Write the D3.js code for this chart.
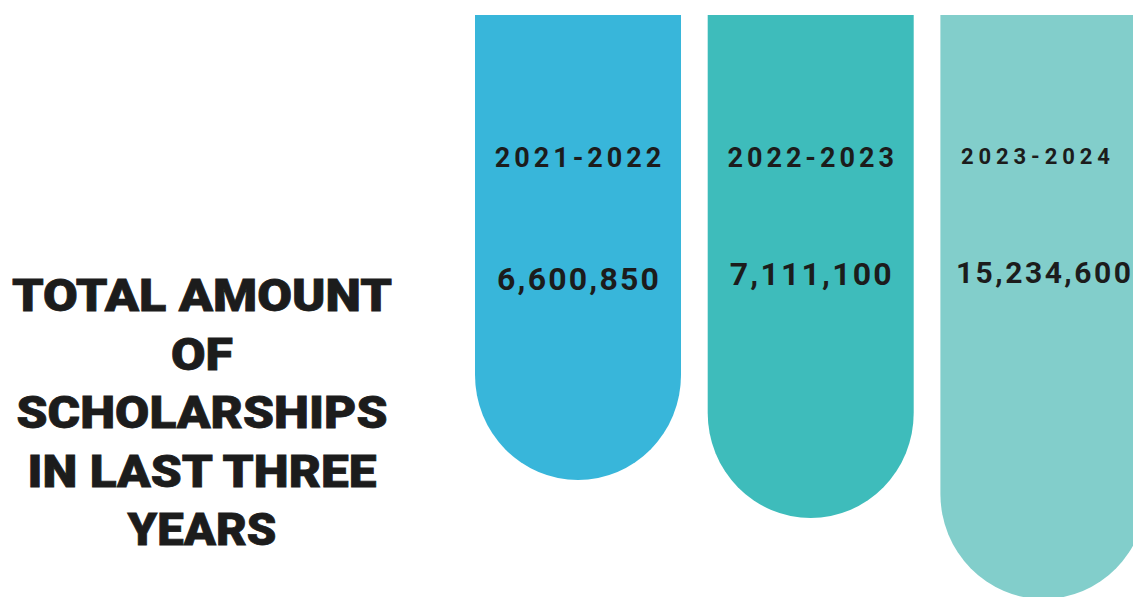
<!DOCTYPE html>
<html>
<head>
<meta charset="utf-8">
<script src="https://cdn.jsdelivr.net/npm/d3@7"></script>
<style>
  html, body { margin: 0; padding: 0; background: #ffffff; overflow: hidden; }
  svg { display: block; }
</style>
</head>
<body>
<svg id="chart" width="1133" height="597"></svg>
<script>
// ---- data ----
const years = ["2021-2022", "2022-2023", "2023-2024"];
const amounts = [6600850, 7111100, 15234600];
const titleLines = ["TOTAL AMOUNT", "OF", "SCHOLARSHIPS", "IN LAST THREE", "YEARS"];
const barColors = ["#38b6da", "#3ebcbb", "#82cecb"];

// ---- layout ----
const W = 1133, H = 597;
const svg = d3.select("#chart");
const ink = "#1c1c1c";

const x = d3.scaleBand().domain(years).range([475, 1146.4]).paddingInner(0.1147).paddingOuter(0);
// bottom of each rounded bar (piecewise scale through the values)
const y = d3.scaleLinear().domain(amounts).range([480, 518, 599]);
const barTop = 15;
const ry = 105;

const rows = years.map((yr, i) => ({ year: yr, amount: amounts[i], color: barColors[i], i }));

function barPath(d) {
  const x0 = x(d.year), x1 = x0 + x.bandwidth();
  const bottom = y(d.amount);
  const rx = x.bandwidth() / 2;
  const yc = bottom - ry;
  return `M${x0},${barTop}L${x1},${barTop}L${x1},${yc}A${rx},${ry} 0 0 1 ${x0},${yc}Z`;
}

svg.append("g").selectAll("path").data(rows).join("path")
  .attr("d", barPath)
  .attr("fill", d => d.color);

// year labels
const yearStyle = [
  { size: 27, ls: 4.0, base: 167, dx: 0 },
  { size: 27, ls: 4.0, base: 167, dx: 0 },
  { size: 22, ls: 4.9, base: 164, dx: -8 }
];
svg.append("g").selectAll("text").data(rows).join("text")
  .attr("x", d => x(d.year) + x.bandwidth() / 2 + yearStyle[d.i].dx + yearStyle[d.i].ls / 2)
  .attr("y", d => yearStyle[d.i].base)
  .attr("text-anchor", "middle")
  .style("font-family", "Roboto, 'Liberation Sans', sans-serif")
  .style("font-weight", 700)
  .style("font-size", d => yearStyle[d.i].size + "px")
  .style("letter-spacing", d => yearStyle[d.i].ls + "px")
  .attr("fill", ink)
  .text(d => d.year);

// value labels
const fmt = d3.format(",");
const valStyle = [
  { size: 32, ls: 2.2, base: 290, dx: 0 },
  { size: 32, ls: 2.2, base: 285, dx: 0 },
  { size: 30, ls: 2.5, base: 283, dx: 0 }
];
svg.append("g").selectAll("text").data(rows).join("text")
  .attr("x", d => x(d.year) + x.bandwidth() / 2 + valStyle[d.i].dx + valStyle[d.i].ls / 2)
  .attr("y", d => valStyle[d.i].base)
  .attr("text-anchor", "middle")
  .style("font-family", "Roboto, 'Liberation Sans', sans-serif")
  .style("font-weight", 700)
  .style("font-size", d => valStyle[d.i].size + "px")
  .style("letter-spacing", d => valStyle[d.i].ls + "px")
  .attr("fill", ink)
  .text(d => fmt(d.amount));

// title
const titleWidths = [380, 62, 371, 349, 149];
const titleG = svg.append("g");
titleG.selectAll("text").data(titleLines).join("text")
  .attr("x", 202)
  .attr("y", (d, i) => 311 + i * 58.5)
  .attr("text-anchor", "middle")
  .attr("textLength", (d, i) => titleWidths[i])
  .attr("lengthAdjust", "spacingAndGlyphs")
  .style("font-family", "Roboto, 'Liberation Sans', sans-serif")
  .style("font-weight", 900)
  .style("font-size", "45px")
  .style("stroke", ink)
  .style("stroke-width", 0.8)
  .attr("fill", ink)
  .text(d => d);
</script>
</body>
</html>
